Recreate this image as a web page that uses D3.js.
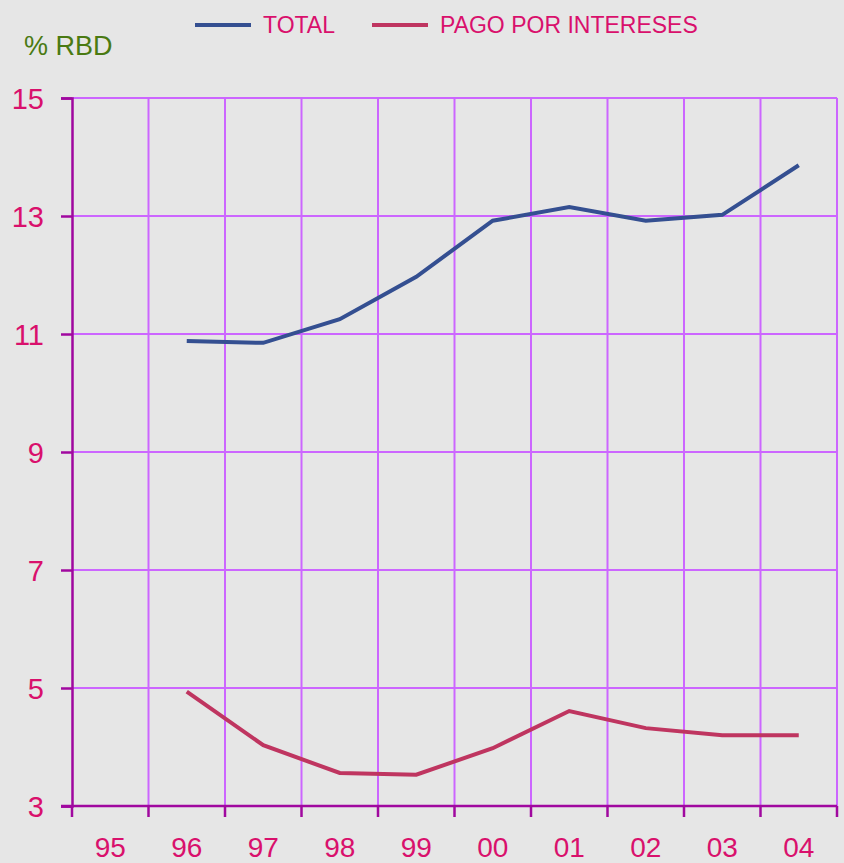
<!DOCTYPE html>
<html>
<head>
<meta charset="utf-8">
<script src="https://cdn.jsdelivr.net/npm/d3@7/dist/d3.min.js"></script>
<style>
  html, body { margin: 0; padding: 0; background: #e6e6e6; }
  svg { display: block; font-family: "Liberation Sans", Arial, sans-serif; }
</style>
</head>
<body>
<svg id="chart" width="844" height="863"></svg>
<script>
// Years shown on the category axis
const years = ["95", "96", "97", "98", "99", "00", "01", "02", "03", "04"];
// Debt burden, % of gross disposable income (no data for 95)
const total = [null, 10.88, 10.85, 11.25, 11.97, 12.92, 13.15, 12.92, 13.02, 13.86];
const pagoIntereses = [null, 4.94, 4.03, 3.56, 3.53, 3.98, 4.61, 4.32, 4.20, 4.20];
const yTicks = [3, 5, 7, 9, 11, 13, 15];
const seriesNames = ["TOTAL", "PAGO POR INTERESES"];

const colors = { total: "#344f91", pago: "#bf3560", grid: "#cc66ff", axis: "#a0089f",
                 text: "#d9106c", unit: "#4a7a12" };

const svg = d3.select("#chart");
const plotL = 72, plotR = 837, plotT = 98, plotB = 806;

const x = d3.scaleBand().domain(years).range([plotL, plotR]).paddingInner(0).paddingOuter(0);
const y = d3.scaleLinear().domain([3, 15]).range([plotB, plotT]);

// Horizontal gridlines
svg.append("g").selectAll("line").data(yTicks.filter(d => d !== 3)).join("line")
  .attr("x1", plotL).attr("x2", plotR)
  .attr("y1", d => y(d)).attr("y2", d => y(d))
  .attr("stroke", colors.grid).attr("stroke-width", 2);

// Vertical gridlines at category boundaries
const bounds = years.map(d => x(d)).concat([x(years[years.length - 1]) + x.bandwidth()]);
svg.append("g").selectAll("line").data(bounds.slice(1)).join("line")
  .attr("x1", d => d).attr("x2", d => d)
  .attr("y1", plotT).attr("y2", plotB)
  .attr("stroke", colors.grid).attr("stroke-width", 2);

// Y axis
const yAxis = svg.append("g").attr("transform", `translate(${plotL},0)`)
  .call(d3.axisLeft(y).tickValues(yTicks).tickSize(11).tickPadding(17).tickFormat(d3.format("d")));
yAxis.select(".domain").attr("stroke", colors.axis).attr("stroke-width", 2.5);
yAxis.selectAll(".tick line").attr("stroke", colors.axis).attr("stroke-width", 2.5);
yAxis.selectAll(".tick text").attr("fill", colors.text).attr("font-size", 29)
  .attr("font-family", "'Liberation Sans', Arial, sans-serif").attr("dy", "0.36em");

// X axis: baseline with ticks at the boundaries, labels centred in each band
const xg = svg.append("g");
xg.append("line").attr("x1", plotL - 11).attr("x2", plotR).attr("y1", plotB).attr("y2", plotB)
  .attr("stroke", colors.axis).attr("stroke-width", 2.5);
xg.selectAll("line.tick").data(bounds).join("line").attr("class", "tick")
  .attr("x1", d => d).attr("x2", d => d).attr("y1", plotB).attr("y2", plotB + 11)
  .attr("stroke", colors.axis).attr("stroke-width", 2.5);
xg.selectAll("text").data(years).join("text")
  .attr("x", d => x(d) + x.bandwidth() / 2).attr("y", 857)
  .attr("text-anchor", "middle").attr("fill", colors.text).attr("font-size", 28)
  .text(d => d);

// Series lines
const line = d3.line()
  .defined(d => d.v != null)
  .x(d => x(d.year) + x.bandwidth() / 2)
  .y(d => y(d.v));
const toPts = arr => years.map((yr, i) => ({ year: yr, v: arr[i] }));

svg.append("path").datum(toPts(total)).attr("d", line)
  .attr("fill", "none").attr("stroke", colors.total).attr("stroke-width", 4);
svg.append("path").datum(toPts(pagoIntereses)).attr("d", line)
  .attr("fill", "none").attr("stroke", colors.pago).attr("stroke-width", 4);

// Legend
const legend = [
  { name: seriesNames[0], color: colors.total, x: 195 },
  { name: seriesNames[1], color: colors.pago, x: 372 }
];
const lg = svg.append("g");
legend.forEach(l => {
  lg.append("line").attr("x1", l.x).attr("x2", l.x + 56).attr("y1", 25).attr("y2", 25)
    .attr("stroke", l.color).attr("stroke-width", 4);
  lg.append("text").attr("x", l.x + 68).attr("y", 33).attr("fill", colors.text)
    .attr("font-size", 23).text(l.name);
});

// Unit label
svg.append("text").attr("x", 24).attr("y", 55).attr("fill", colors.unit)
  .attr("font-size", 27).text("% RBD");
</script>
</body>
</html>
